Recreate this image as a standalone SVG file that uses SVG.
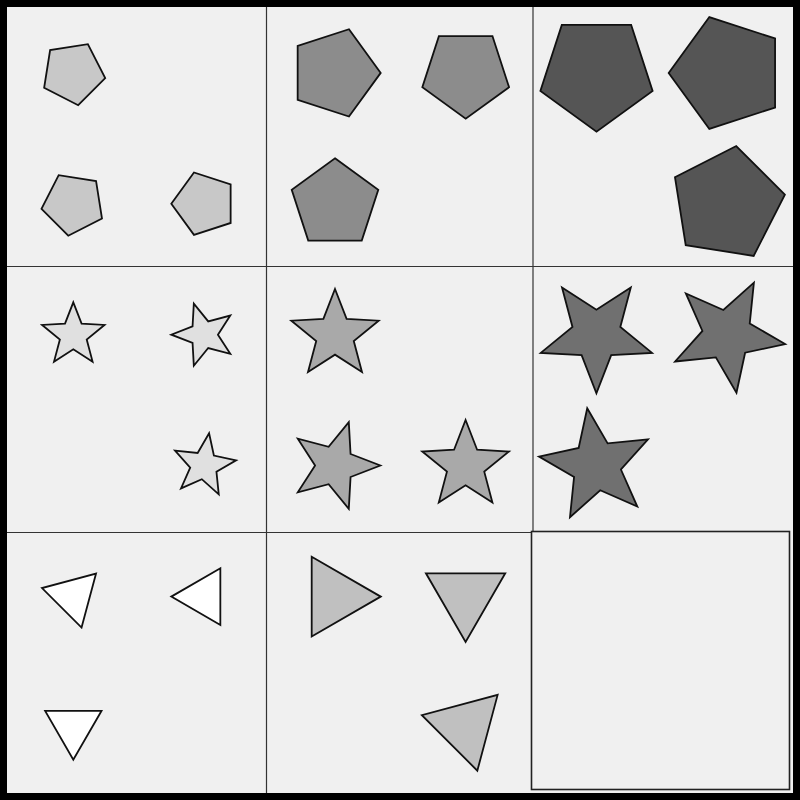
<svg xmlns="http://www.w3.org/2000/svg" xmlns:xlink="http://www.w3.org/1999/xlink" width="800" height="800" viewBox="0 0 800 800">
<style>
.sh{stroke:#111;stroke-width:1.8;stroke-linejoin:miter;vector-effect:non-scaling-stroke}
.grid{stroke:#333;stroke-width:1.2;fill:none}
.f1{fill:#c8c8c8}.f2{fill:#8c8c8c}.f3{fill:#555555}
.s1{fill:#e0e0e0}.s2{fill:#a9a9a9}.s3{fill:#707070}
.t1{fill:#ffffff}.t2{fill:#c0c0c0}
</style>
<defs>
<path id="pent" class="sh" d="M0,-1 L0.9511,-0.309 L0.5878,0.809 L-0.5878,0.809 L-0.9511,-0.309 Z"/>
<path id="star" class="sh" d="M0,-1 L0.2528,-0.3479 L0.9511,-0.309 L0.409,0.1329 L0.5878,0.809 L0,0.43 L-0.5878,0.809 L-0.409,0.1329 L-0.9511,-0.309 L-0.2528,-0.3479 Z"/>
<path id="tri" class="sh" d="M0,-1 L0.866,0.5 L-0.866,0.5 Z"/>
</defs>
<rect x="0" y="0" width="800" height="800" fill="#000"/>
<rect x="7" y="7" width="786" height="786" fill="#f0f0f0"/>
<g id="grid">
<line class="grid" x1="266.5" y1="7" x2="266.5" y2="793"/>
<line class="grid" x1="533" y1="7" x2="533" y2="531"/>
<line class="grid" x1="7" y1="266.5" x2="793" y2="266.5"/>
<line class="grid" x1="7" y1="532.5" x2="531" y2="532.5"/>
<rect id="answer-cell" x="531.5" y="531.5" width="258" height="258" fill="#f0f0f0" stroke="#222" stroke-width="1.6"/>
</g>
<g id="cell-1-1">
<use href="#pent" class="f1" transform="translate(73.1,73.1) rotate(27) scale(32.5)"/>
<use href="#pent" class="f1" transform="translate(73.3,203.9) rotate(45) scale(32.2)"/>
<use href="#pent" class="f1" transform="translate(204.1,203.7) rotate(54) scale(32.8)"/>
</g>
<g id="cell-1-2">
<use href="#pent" class="f2" transform="translate(334.8,72.9) rotate(18) scale(45.9)"/>
<use href="#pent" class="f2" transform="translate(465.7,73.1) rotate(36) scale(45.6)"/>
<use href="#pent" class="f2" transform="translate(335,203.8) rotate(0) scale(45.5)"/>
</g>
<g id="cell-1-3">
<use href="#pent" class="f3" transform="translate(596.5,72.7) rotate(36) scale(59)"/>
<use href="#pent" class="f3" transform="translate(727.5,73) rotate(54) scale(58.8)"/>
<use href="#pent" class="f3" transform="translate(727.1,203.8) rotate(9) scale(58.5)"/>
</g>
<g id="cell-2-1">
<use href="#star" class="s1" transform="translate(73.3,335.1) rotate(0) scale(32.8)"/>
<use href="#star" class="s1" transform="translate(203.9,334.7) rotate(54) scale(32.6)"/>
<use href="#star" class="s1" transform="translate(204,465.4) rotate(9) scale(32.5)"/>
</g>
<g id="cell-2-2">
<use href="#star" class="s2" transform="translate(335,334.9) rotate(0) scale(45.9)"/>
<use href="#star" class="s2" transform="translate(334.7,465.5) rotate(18) scale(45.6)"/>
<use href="#star" class="s2" transform="translate(465.6,465.6) rotate(0) scale(45.6)"/>
</g>
<g id="cell-2-3">
<use href="#star" class="s3" transform="translate(596.4,334.8) rotate(36) scale(58.5)"/>
<use href="#star" class="s3" transform="translate(727.3,334.9) rotate(27) scale(58.6)"/>
<use href="#star" class="s3" transform="translate(596.3,465.6) rotate(-9) scale(58)"/>
</g>
<g id="cell-3-1">
<use href="#tri" class="t1" transform="translate(73.2,596.4) rotate(45) scale(32.3)"/>
<use href="#tri" class="t1" transform="translate(204,596.6) rotate(30) scale(32.7)"/>
<use href="#tri" class="t1" transform="translate(73.3,727.2) rotate(60) scale(32.5)"/>
</g>
<g id="cell-3-2">
<use href="#tri" class="t2" transform="translate(334.7,596.6) rotate(90) scale(46)"/>
<use href="#tri" class="t2" transform="translate(465.6,596.2) rotate(60) scale(45.8)"/>
<use href="#tri" class="t2" transform="translate(465.6,726.9) rotate(45) scale(45.3)"/>
</g>
</svg>
